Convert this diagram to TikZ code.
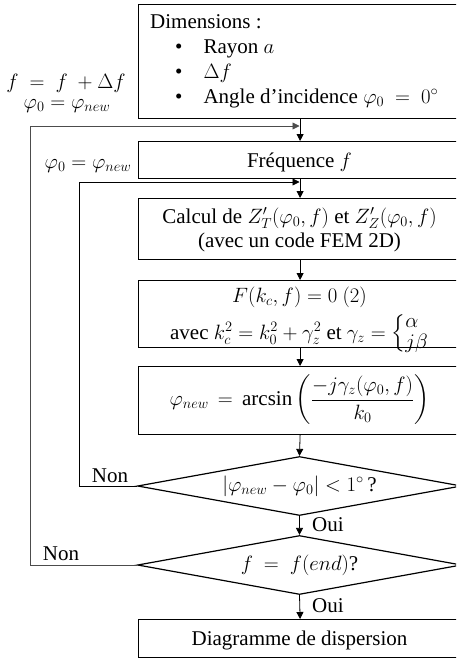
\documentclass[tikz,border=0pt]{standalone}
\usepackage{amsmath}
\usepackage{fontspec}
\setmainfont{Liberation Serif}
\usetikzlibrary{arrows.meta,shapes.geometric}
\begin{document}
\begin{tikzpicture}[x=1pt,y=-1pt,
  every node/.style={font=\fontsize{21}{25}\selectfont},
  box/.style={draw,line width=1.2pt,rectangle,anchor=north west,minimum width=323pt,inner sep=0pt},
  dia/.style={draw,line width=1.2pt,diamond,aspect=5.5,minimum width=324pt,minimum height=59pt,inner sep=0pt},
  lbl/.style={inner sep=0pt},
  arr/.style={line width=0.8pt,-{Triangle[length=7pt,width=7pt]}},
  loop/.style={line width=0.8pt,-{Triangle[length=7pt,width=7pt]}}]
\useasboundingbox (0,0) rectangle (456,659);
\clip (0,0) rectangle (456,659);
% boxes
\node[box,minimum height=114pt] (b1) at (138,4) {};
\node[box,minimum height=37pt] (b2) at (138,141) {};
\node[box,minimum height=61pt] (b3) at (138,198) {};
\node[box,minimum height=67pt] (b4) at (138,280) {};
\node[box,minimum height=68pt] (b5) at (138,366) {};
\node[dia] (d1) at (299.5,486) {$|\varphi_{new}-\varphi_0|<1^\circ\,$?};
\node[dia] (d2) at (299.5,565) {$f\ =\ f(end)$?};
\node[box,minimum height=38pt] (b6) at (138,619) {};
% box 1 text
\node[lbl,anchor=base west] (t1a) at (150,28) {Dimensions :};
\node[lbl,anchor=base west] (t1b) at (150,53) {\hspace{25pt}\textbullet\hspace{21pt}Rayon $a$};
\node[lbl,anchor=base west] (t1c) at (150,78) {\hspace{25pt}\textbullet\hspace{21pt}$\Delta f$};
\node[lbl,anchor=base west] (t1d) at (150,103) {\hspace{25pt}\textbullet\hspace{21pt}Angle d’incidence $\varphi_0\ =\ 0^\circ$};
% other box texts
\node[lbl,anchor=base] (t2) at (299.5,167) {Fréquence $f$};
\node[lbl,anchor=base] (t3a) at (299.5,223) {Calcul de $Z'_T(\varphi_0,f)$ et $Z'_Z(\varphi_0,f)$};
\node[lbl,anchor=base] (t3b) at (299.5,247) {(avec un code FEM 2D)};
\node[lbl,anchor=base] (t4a) at (299.5,302) {$F(k_c,f)=0\ (2)$};
\node[lbl,anchor=base] (t4b) at (299.5,339) {avec $k_c^2=k_0^2+\gamma_z^2$ et $\gamma_z=\left\{\renewcommand{\arraystretch}{0.8}\begin{array}{@{}l@{}}\alpha\\ j\beta\end{array}\right.$};
\node[lbl] (t5) at (299.5,400) {$\varphi_{new}\,=\,\arcsin\left(\dfrac{-j\gamma_z(\varphi_0,f)}{k_0}\right)$};
\node[lbl,anchor=base] (t6) at (299.5,645) {Diagramme de dispersion};
% left labels
\node[lbl,anchor=base] (l1) at (66,88) {$f\ =\ f\ +\Delta f$};
\node[lbl,anchor=base] (l2) at (67,108) {$\varphi_0=\varphi_{new}$};
\node[lbl,anchor=base] (l3) at (88,168) {$\varphi_0=\varphi_{new}$};
\node[lbl,anchor=base] (n1) at (110,482) {Non};
\node[lbl,anchor=base] (n2) at (61,560) {Non};
\node[lbl,anchor=base west] (o1) at (312,531) {Oui};
\node[lbl,anchor=base west] (o2) at (312,612) {Oui};
% junction coordinates
\coordinate (m1) at (299.5,126);
\coordinate (m2) at (299.5,182);
% vertical flow
\draw[arr] (b1.south) -- (b2.north);
\draw[arr] (b2.south) -- (b3.north);
\draw[arr] (b3.south) -- (b4.north);
\draw[arr] (b4.south) -- (b5.north);
\draw[arr] (b5.south) -- (d1.north);
\draw[arr] (d1.south) -- (d2.north);
\draw[arr] (d2.south) -- (b6.north);
% loops
\draw[loop] (d1.west) -- ++(-57.5,0) |- (m2);
\draw[loop,draw=black!70] (d2.west) -- ++(-106.5,0) |- (m1);
\end{tikzpicture}
\end{document}
